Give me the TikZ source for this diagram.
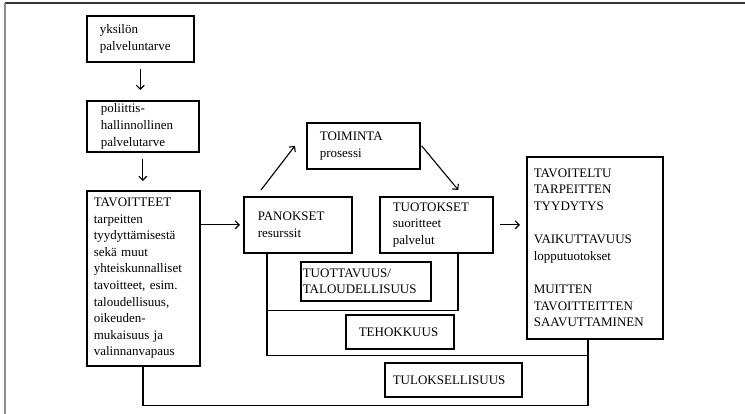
\documentclass[tikz,border=0pt]{standalone}
\usepackage{fontspec}
\setmainfont{Liberation Serif}
\usetikzlibrary{arrows.meta}
\tikzset{
  laatikko/.style={draw, line width=1.6pt, anchor=north west, align=left,
    inner ysep=2pt, font=\fontsize{13}{16.6}\selectfont},
  viiva/.style={line width=1.1pt},
  >={Straight Barb[length=4pt,width=8pt]},
}

\begin{document}
\begin{tikzpicture}[x=1pt,y=-1pt]
 \useasboundingbox (0,0) rectangle (745,414);
 \draw [line width=1.4pt, black!80] (5,3) -- (745,3);
 \draw [line width=1.4pt, black!45] (5,3) -- (5,414);
 % vasen sarake
 \node[laatikko, text width=81pt, inner xsep=13pt, minimum height=46pt] (yksilo) at (86,15) {yksilön\\palveluntarve};
 \node[laatikko, text width=84pt, inner xsep=14pt, minimum height=51pt] (poliitt) at (86,100) {poliittis-\\hallinnollinen\\palvelutarve};
 \node[laatikko, text width=99pt, inner xsep=7pt, minimum height=175pt] (tavoitteet) at (86,190) {TAVOITTEET\\tarpeitten\\tyydyttämisestä\\sekä muut\\yhteiskunnalliset\\tavoitteet, esim.\\taloudellisuus,\\oikeuden-\\mukaisuus ja\\valinnanvapaus};
 % prosessi
 \node[laatikko, text width=80pt, inner xsep=14pt, minimum height=56pt] (panokset) at (243,196) {PANOKSET\\resurssit};
 \node[laatikko, text width=87pt, inner xsep=13pt, minimum height=46pt] (toiminta) at (306,122) {TOIMINTA\\prosessi};
 \node[laatikko, text width=87pt, inner xsep=13pt, minimum height=56pt] (tuotokset) at (379,196) {TUOTOKSET\\suoritteet\\palvelut};
 \node[laatikko, text width=122pt, inner xsep=7pt, minimum height=182pt] (tavoiteltu) at (526,156) {TAVOITELTU\\TARPEITTEN\\TYYDYTYS\\[16.6pt]VAIKUTTAVUUS\\lopputuotokset\\[16.6pt]MUITTEN\\TAVOITTEITTEN\\SAAVUTTAMINEN};
 % mittarit
 \node[laatikko, text width=126pt, inner xsep=2pt, minimum height=39pt] (tuottavuus) at (300,261) {TUOTTAVUUS/\\TALOUDELLISUUS};
 \node[laatikko, text width=82pt, inner xsep=13pt, minimum height=34pt] (tehokkuus) at (345,314) {TEHOKKUUS};
 \node[laatikko, text width=121pt, inner xsep=8pt, minimum height=34pt] (tuloksellisuus) at (384,362) {TULOKSELLISUUS};
 % nuolet
 \draw [viiva, ->, shorten <=6pt, shorten >=10pt] (yksilo.south) -- (yksilo.south |- poliitt.north);
 \draw [viiva, ->, shorten <=6pt, shorten >=9pt] (poliitt.south) -- (poliitt.south |- tavoitteet.north);
 \draw [viiva, ->, shorten >=3pt] (tavoitteet.east |- panokset.west) -- (panokset.west);
 \draw [viiva, ->] ([xshift=18pt,yshift=6pt]panokset.north west) -- ([xshift=-11pt]toiminta.west);
 \draw [viiva, ->] ([xshift=1pt]toiminta.east) -- ([xshift=22pt,yshift=6pt]tuotokset.north);
 \draw [viiva, ->, shorten <=6pt, shorten >=6pt] (tuotokset.east) -- (tuotokset.east -| tavoiteltu.west);
 % rajaukset
 \coordinate (p1) at ([xshift=24pt]panokset.south west);
 \coordinate (t1) at ([xshift=79pt]tuotokset.south west);
 \coordinate (r1) at ([xshift=62pt]tavoiteltu.south west);
 \coordinate (a1) at ([xshift=57pt]tavoitteet.south west);
 \draw [viiva] (p1) |- ([yshift=-57pt]t1) -- (t1);
 \draw [viiva] (p1) |- ([yshift=-16pt]r1) -- (r1);
 \draw [viiva] (a1) |- ([yshift=-66pt]r1) -- (r1);
\end{tikzpicture}
\end{document}
